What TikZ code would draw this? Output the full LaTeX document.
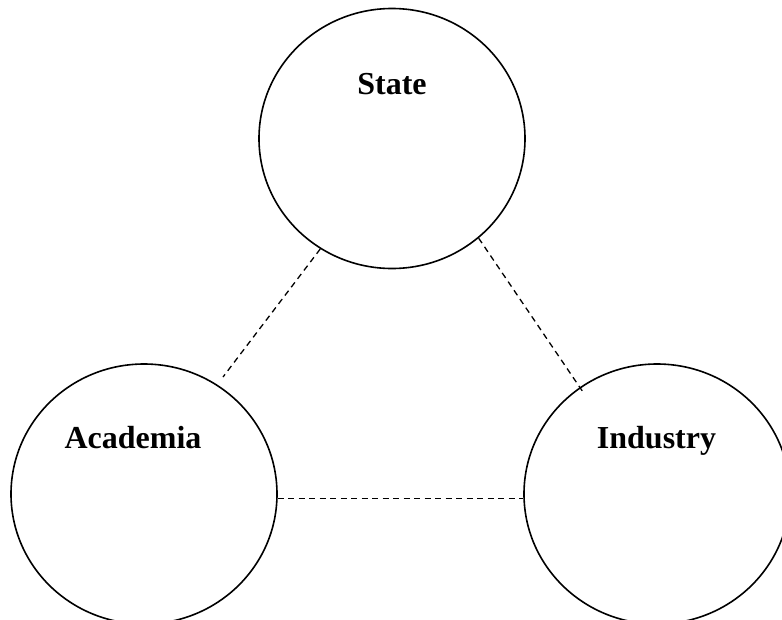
\documentclass[tikz,border=0pt]{standalone}
\usepackage{fontspec}
\setmainfont{Liberation Serif}
\usetikzlibrary{shapes.geometric}
\begin{document}
\begin{tikzpicture}[x=1pt,y=-1pt,
  blob/.style={draw=black,line width=1.6pt,ellipse,inner sep=0pt,minimum width=266pt,minimum height=260pt},
  lbl/.style={anchor=base,inner sep=0pt,font=\fontsize{32}{38}\selectfont\bfseries},
  link/.style={draw=black,line width=1.3pt,dash pattern=on 6pt off 4.5pt}]
\useasboundingbox (0,0) rectangle (782,619);
\node[blob] (S) at (392,138.5) {};
\node[blob] (A) at (144,494) {};
\node[blob] (I) at (657,494) {};
\node[lbl] (St) at (392,94) {State};
\node[lbl] (At) at (133,448) {Academia};
\node[lbl] (It) at (656.5,448) {Industry};
\coordinate (a1) at (223,377);
\coordinate (i1) at (583,392);
\draw[link] (S.237.5) -- (a1);
\draw[link] (S.311.5) -- (i1);
\draw[link] (A.358) -- (I.182);
\end{tikzpicture}
\end{document}
